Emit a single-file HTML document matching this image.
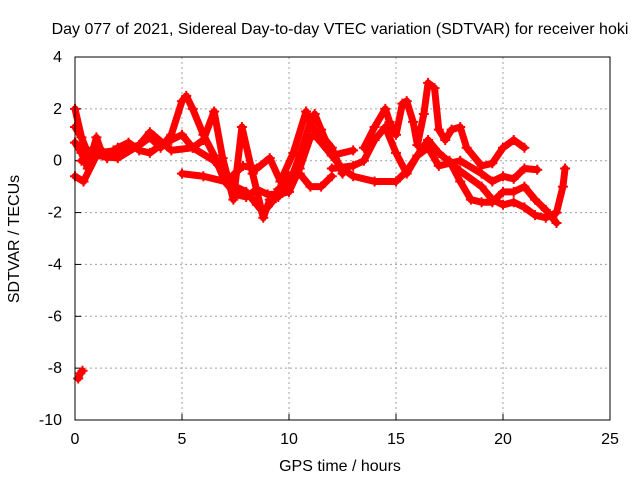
<!DOCTYPE html>
<html><head><meta charset="utf-8"><style>
body{margin:0;background:#fff}
svg{display:block;font-family:"Liberation Sans",Arial,sans-serif;font-size:16px}
</style></head><body>
<svg id="chart" width="640" height="480">
<text x="340" y="34" text-anchor="middle">Day 077 of 2021, Sidereal Day-to-day VTEC variation (SDTVAR) for receiver hoki</text>
<text x="340" y="471" text-anchor="middle">GPS time / hours</text>
<text transform="translate(19,239) rotate(-90)" text-anchor="middle">SDTVAR / TECUs</text>
<g id="grid"></g><g id="ticks"></g><g id="marks"></g>
<rect x="75" y="57" width="535" height="363" fill="none" stroke="#000" stroke-width="1"/>
</svg>
<script>
const xTicks=[0,5,10,15,20,25];
const yTicks=[4,2,0,-2,-4,-6,-8,-10];
const trackAx=[0.3,1,2,3,3.5,4,4.5,5,5.2,5.5,6,6.5,7,7.5,8,8.5,9,9.5,10,10.5,11,11.5,12,12.5];
const trackAy=[0,0.3,0.4,0.6,0.9,0.5,1.0,2.3,2.5,2.0,1.0,0.2,-0.8,-1.3,-1.4,-1.1,-1.3,-1.3,-1.2,-0.3,0.9,1.0,0.5,-0.5];
const trackBx=[5,6,7,8,8.5,8.8,9.2,9.5,10,10.5,11,11.2,11.5,12,12.5,13,14,15,15.5,16,16.5,17,18,19,19.5,20,20.5,21,21.5,22,22.5,22.8,22.9];
const trackBy=[-0.5,-0.6,-0.8,-1.2,-1.7,-2.0,-1.6,-1.1,-0.9,0.2,1.5,1.8,1.2,0.2,-0.3,-0.6,-0.8,-0.8,-0.4,0.2,0.8,0.3,-0.4,-1.0,-1.5,-1.7,-1.6,-1.8,-2.1,-2.2,-2.0,-1.0,-0.3];
const trackCx=[0,0.5,1,1.5,2,2.5,3,3.5,4,4.5,5,5.5,6,6.5,6.9,7.4,7.8,8.3,8.8,9.1,9.5,10,10.5,11,11.5,12];
const trackCy=[2.0,0.2,0.6,0.2,0.5,0.7,0.4,0.3,0.6,0.8,1.0,0.5,0.8,1.9,0.1,-1.5,1.3,-0.5,-2.2,-1.5,-1.4,-0.6,-0.5,-1.0,-1.0,-0.6];
const trackDx=[0,0.4,1,2,3,3.5,4.5,5.5,6.5,7.2,7.85,8.5,9.1,9.6,10.2,10.8,11.3,12,13];
const trackDy=[-0.6,-0.8,0.2,0.1,0.6,1.1,0.4,0.5,0.0,-0.7,-0.2,-0.3,0.1,-0.8,0.3,1.9,0.9,0.2,0.4];
const trackEx=[13.5,14,14.5,14.7,15,15.3,15.5,15.8,16,16.3,16.5,16.8,17,17.3,17.6,18,18.3,19,19.5,20,20.5,21];
const trackEy=[0.5,1.3,2.0,1.5,1.0,2.2,2.3,1.5,0.6,1.8,3.0,2.8,1.2,0.8,1.2,1.3,0.5,-0.2,-0.1,0.5,0.8,0.5];
const trackFx=[17.5,18,18.5,19,19.5,20,20.5,21,21.5,22,22.5];
const trackFy=[0,-0.8,-1.5,-1.6,-1.6,-1.2,-1.2,-1.0,-1.5,-1.9,-2.4];
const trackGx=[12,13,13.5,14,14.5,15,15.5,16,16.5,17,18,19,19.5,20,20.5,21,21.6];
const trackGy=[-0.3,-0.2,0,0.8,1.3,0.3,-0.5,0.2,0.5,-0.2,0,-0.5,-0.8,-0.6,-0.7,-0.3,-0.35];
const trackHx=[0.15,0.25,0.35];
const trackHy=[-8.4,-8.2,-8.1];
const trackIx=[0,0.3,0.6,1,1.5,2,2.5];
const trackIy=[1.3,0.9,0.3,0.5,0.1,0.3,0.6];
const trackJx=[0,0.3,0.6,1,1.3,1.8];
const trackJy=[0.7,0.3,-0.3,0.9,0.2,0.4];
const tracks=[[trackAx,trackAy],[trackBx,trackBy],[trackCx,trackCy],[trackDx,trackDy],[trackEx,trackEy],[trackFx,trackFy],[trackGx,trackGy],[trackHx,trackHy],[trackIx,trackIy],[trackJx,trackJy]];
const NS='http://www.w3.org/2000/svg';
const X=v=>75+v*(535/25), Y=v=>57+(4-v)*(363/14);
function mk(t,a,p){const e=document.createElementNS(NS,t);for(const k in a)e.setAttribute(k,a[k]);p.appendChild(e);return e;}
const grid=document.getElementById('grid'),ticks=document.getElementById('ticks'),marks=document.getElementById('marks');
xTicks.forEach(t=>{
 if(t>0&&t<25){const l=mk('line',{x1:X(t),x2:X(t),y1:57,y2:420,stroke:'#a0a0a0','stroke-dasharray':'2,3'},grid);
 
 }
 const tx=mk('text',{x:X(t),y:444,'text-anchor':'middle'},ticks);tx.textContent=t;
 
 
 mk('line',{x1:X(t),x2:X(t),y1:420,y2:414,stroke:'#000'},ticks);
});
yTicks.forEach(t=>{
 if(t<4&&t>-10){const l=mk('line',{x1:75,x2:610,y1:Y(t),y2:Y(t),stroke:'#a0a0a0','stroke-dasharray':'2,3'},grid);
 
 }
 const tx=mk('text',{x:62,y:Y(t)+5,'text-anchor':'end'},ticks);tx.textContent=t;
 
 
 mk('line',{x1:75,x2:81,y1:Y(t),y2:Y(t),stroke:'#000'},ticks);
});
tracks.forEach((tr,i)=>{
 const pts=tr[0].map((x,j)=>X(x)+','+Y(tr[1][j])).join(' ');
 const pl=mk('polyline',{points:pts,fill:'none',stroke:'#f00','stroke-width':7,'stroke-linejoin':'round','stroke-linecap':'round'},marks);
 
 
 tr[0].forEach((x,j)=>{
  const px=X(x),py=Y(tr[1][j]);
  const p=mk('path',{d:`M${px-5},${py}H${px+5}M${px},${py-5}V${py+5}`,stroke:'#f00','stroke-width':2},marks);
  
  
 });
});
</script>
</body></html>
